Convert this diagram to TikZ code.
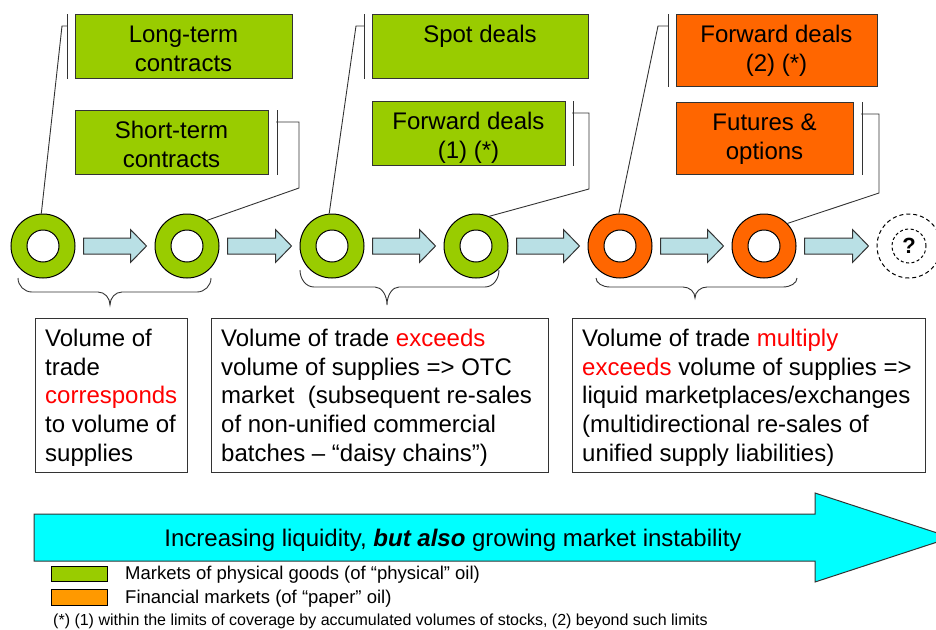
\documentclass[tikz,border=0pt]{standalone}
\usepackage{fontspec}
\setmainfont{Liberation Sans}
\usetikzlibrary{calc}
\definecolor{pgreen}{HTML}{99CC00}
\definecolor{porange}{HTML}{FF6600}
\definecolor{lorange}{HTML}{FF9900}
\definecolor{lblue}{HTML}{B9E0E5}
\definecolor{bigcyan}{HTML}{00FFFF}
\definecolor{edge}{HTML}{333333}
\newcommand\blockarr[2]{%
  \draw[barrow] ([shift={(8,-8)}]#1.east) -- ([shift={(-24,-8)}]#2.west)
    -- ([shift={(-24,-16.5)}]#2.west) -- ([shift={(-8,0)}]#2.west)
    -- ([shift={(-24,16.5)}]#2.west) -- ([shift={(-24,8)}]#2.west)
    -- ([shift={(8,8)}]#1.east) -- cycle;}
\newcommand\bracepath[6]{%
  \draw[co] (#1,#4) .. controls (#1,{#4+0.552*(#5-#4)}) and ({#1+6.27},#5) .. ({#1+14},#5)
    -- ({#2-12},#5) .. controls ({#2-5.38},#5) and (#2,{#6-0.552*(#6-#5)}) .. (#2,#6)
    .. controls (#2,{#6-0.552*(#6-#5)}) and ({#2+5.38},#5) .. ({#2+12},#5)
    -- ({#3-14},#5) .. controls ({#3-6.27},#5) and (#3,{#4+0.552*(#5-#4)}) .. (#3,#4);}
\begin{document}
\begin{tikzpicture}[x=1pt,y=-1pt,
  box/.style={draw=edge, line width=1.2pt, inner sep=0pt, anchor=north west},
  gbox/.style={box, fill=pgreen},
  obox/.style={box, fill=porange},
  ctxt/.style={font=\fontsize{24}{28.8}\selectfont, inner sep=0pt, align=center, anchor=north},
  ltxt/.style={font=\fontsize{24}{28.8}\selectfont, inner sep=0pt, align=left, anchor=north west},
  ring/.style={circle, draw=black, line width=1pt, fill=#1, minimum size=64pt, inner sep=0pt,
    path picture={\draw[line width=1pt, fill=white] (path picture bounding box.center) circle (16pt);}},
  barrow/.style={draw=edge, line width=1pt, fill=lblue},
  co/.style={draw=edge, line width=0.9pt},
  lgbox/.style={draw=black, line width=1pt, inner sep=0pt, minimum width=56pt, anchor=north west},
  lgtxt/.style={font=\fontsize{18.5}{22}\selectfont, inner sep=0pt, anchor=base west}]
\useasboundingbox (0,0) rectangle (936,629);

% rings
\node[ring=pgreen] (r1) at (43,246) {};
\node[ring=pgreen] (r2) at (187,246) {};
\node[ring=pgreen] (r3) at (332,246) {};
\node[ring=pgreen] (r4) at (476,246) {};
\node[ring=porange] (r5) at (620,246) {};
\node[ring=porange] (r6) at (764,246) {};
\node[circle, draw=black, line width=1pt, dash pattern=on 4pt off 3pt, minimum size=64pt, inner sep=0pt] (q) at (909,246) {};
\node[circle, draw=black, line width=1pt, dash pattern=on 3pt off 2.5pt, minimum size=34pt, inner sep=0pt,
  font=\bfseries\fontsize{22}{22}\selectfont] (qi) at (q.center) {?};

% block arrows between rings
\blockarr{r1}{r2}
\blockarr{r2}{r3}
\blockarr{r3}{r4}
\blockarr{r4}{r5}
\blockarr{r5}{r6}
\blockarr{r6}{q}

% top boxes
\node[gbox, minimum width=217pt, minimum height=64pt] (lt) at (75,14) {};
\node[ctxt] (ltt) at (183.5,21.84) {\strut Long-term\\contracts};
\node[gbox, minimum width=193pt, minimum height=64pt] (st) at (75,110) {};
\node[ctxt] (stt) at (171.5,117.84) {\strut Short-term\\contracts};
\node[gbox, minimum width=216pt, minimum height=64pt] (sp) at (372,14) {};
\node[ctxt] (spt) at (480,21.84) {\strut Spot deals};
\node[gbox, minimum width=193pt, minimum height=64pt] (f1) at (372,101) {};
\node[ctxt] (f1t) at (468.5,108.84) {\strut Forward deals\\(1) (*)};
\node[obox, minimum width=201pt, minimum height=72pt] (f2) at (676,14) {};
\node[ctxt] (f2t) at (776.5,21.84) {\strut Forward deals\\(2) (*)};
\node[obox, minimum width=177pt, minimum height=72pt] (fu) at (676,102) {};
\node[ctxt] (fut) at (764.5,109.84) {\strut Futures \&\\options};

% callouts
\draw[co] ([xshift=-8pt]lt.north west) -- ([xshift=-8pt]lt.south west);
\coordinate (k1) at (62,26);
\draw[co] (r1.93) -- (k1) -- ++(5,0);

\draw[co] ([xshift=8pt]st.north east) -- ([xshift=8pt]st.south east);
\coordinate (k2a) at (299,122);
\coordinate (k2b) at (299,188);
\draw[co] (r2.52) -- (k2b) -- (k2a) -- ++(-23,0);

\draw[co] ([xshift=-8pt]sp.north west) -- ([xshift=-8pt]sp.south west);
\coordinate (k3) at (356,26);
\draw[co] (r3.95) -- (k3) -- ++(8,0);

\draw[co] ([xshift=7pt]f1.north east) -- ([xshift=7pt]f1.south east);
\coordinate (k4a) at (589,113);
\coordinate (k4b) at (589,189);
\draw[co] (r4.66) -- (k4b) -- (k4a) -- ++(-17,0);

\draw[co] ([xshift=-8pt]f2.north west) -- ([xshift=-8pt]f2.south west);
\coordinate (k5) at (658,26);
\draw[co] (r5.92) -- (k5) -- ++(10,0);

\draw[co] ([xshift=8pt]fu.north east) -- ([xshift=8pt]fu.south east);
\coordinate (k6a) at (879,114);
\coordinate (k6b) at (879,193);
\draw[co] (r6.44) -- (k6b) -- (k6a) -- ++(-18,0);

% braces
\bracepath{18}{110}{211}{278}{292}{305}
\bracepath{300}{387}{499}{270}{287}{305}
\bracepath{596}{695}{797}{278}{287}{298}

% description boxes
\node[box, minimum width=152pt, minimum height=154pt] (b1) at (35,318) {};
\node[ltxt] (b1t) at (45,325.84) {\strut Volume of\\trade\\\textcolor{red}{corresponds}\\to volume of\\supplies};
\node[box, minimum width=337pt, minimum height=154pt] (b2) at (211,318) {};
\node[ltxt] (b2t) at (221,325.84) {\strut Volume of trade \textcolor{red}{exceeds}\\volume of supplies => OTC\\market\ \ (subsequent re-sales\\of non-unified commercial\\batches – “daisy chains”)};
\node[box, minimum width=353pt, minimum height=154pt] (b3) at (572,318) {};
\node[ltxt] (b3t) at (582,325.84) {\strut Volume of trade \textcolor{red}{multiply}\\\textcolor{red}{exceeds} volume of supplies =>\\liquid marketplaces/exchanges\\(multidirectional re-sales of\\unified supply liabilities)};

% big arrow
\draw[draw=edge, line width=1pt, fill=bigcyan] (34,514) -- (815,514) -- (815,493) -- (951,537.5)
  -- (815,582) -- (815,561) -- (34,561) -- cycle;
\node[font=\fontsize{24}{28}\selectfont, inner sep=0pt, anchor=base] (bigt) at (453,546)
  {Increasing liquidity, \textbf{\textit{but also}} growing market instability};

% legend
\node[lgbox, fill=pgreen, minimum height=15pt] (lg1) at (51,566) {};
\node[lgtxt] (lg1t) at (125,579) {Markets of physical goods (of “physical” oil)};
\node[lgbox, fill=lorange, minimum height=16pt] (lg2) at (51,589) {};
\node[lgtxt] (lg2t) at (125,603) {Financial markets (of “paper” oil)};
\node[font=\fontsize{16}{18}\selectfont, inner sep=0pt, anchor=base west] (fn) at (53,625)
  {(*) (1) within the limits of coverage by accumulated volumes of stocks, (2) beyond such limits};
\end{tikzpicture}
\end{document}
